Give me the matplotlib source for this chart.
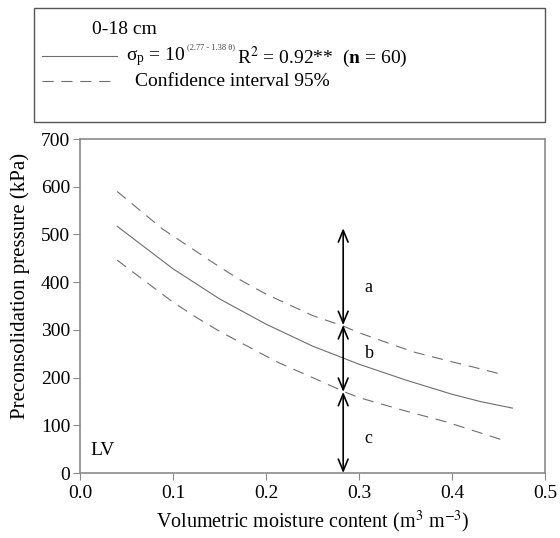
import matplotlib
matplotlib.use("Agg")
import matplotlib.pyplot as plt
from matplotlib.lines import Line2D
from matplotlib.patches import Rectangle

plt.rcParams['font.family'] = ['Liberation Serif', 'DejaVu Serif']
plt.rcParams['mathtext.fontset'] = 'stix'

# Fitted curve (solid)
theta_fit = [0.04, 0.1, 0.15, 0.2, 0.25, 0.3, 0.35, 0.4, 0.43, 0.465]
sp_fit = [517, 428, 365, 312, 266, 228, 195, 165, 150, 136]

# Upper 95% confidence bound
theta_up = [0.04, 0.089, 0.15, 0.172, 0.2, 0.25, 0.283, 0.3, 0.358, 0.4, 0.423, 0.457]
sp_up = [590, 511, 432, 405, 375, 330, 308, 294, 254, 233, 222, 205]

# Lower 95% confidence bound
theta_lo = [0.04, 0.1, 0.126, 0.15, 0.2, 0.215, 0.25, 0.287, 0.3, 0.35, 0.394, 0.453]
sp_lo = [446, 358, 325, 297, 245, 230, 200, 168, 158, 130, 107, 70]

# Arrow (class separation) data
arrow_x = 0.283
arrow_levels = [0, 170, 310, 513]
class_labels = ['c', 'b', 'a']
class_label_y = [73, 251, 388]
class_label_x = 0.306

xticks = [0.0, 0.1, 0.2, 0.3, 0.4, 0.5]
yticks = [0, 100, 200, 300, 400, 500, 600, 700]

W, H = 560, 538
fig = plt.figure(figsize=(W / 100, H / 100), dpi=100)
ax = fig.add_axes([80 / W, 65 / H, 465 / W, 334 / H])

gray = '#6e6e6e'
ax.plot(theta_fit, sp_fit, color=gray, lw=0.8)
ax.plot(theta_up, sp_up, color=gray, lw=0.8, dashes=(10, 7))
ax.plot(theta_lo, sp_lo, color=gray, lw=0.8, dashes=(10, 7))

for lo, hi in zip(arrow_levels[:-1], arrow_levels[1:]):
    ax.annotate('', xy=(arrow_x, hi), xytext=(arrow_x, lo),
                arrowprops=dict(arrowstyle='<->,head_length=0.6,head_width=0.25',
                                color='black', lw=1.2,
                                shrinkA=0, shrinkB=0, mutation_scale=14))
for lab, yy in zip(class_labels, class_label_y):
    ax.text(class_label_x, yy, lab, fontsize=13, ha='left', va='center')

ax.text(0.011, 48, 'LV', fontsize=14, ha='left', va='center')

ax.set_xlim(0, 0.5)
ax.set_ylim(0, 700)
ax.set_xticks(xticks)
ax.set_xticklabels([f'{v:.1f}' for v in xticks])
ax.set_yticks(yticks)
for s in ax.spines.values():
    s.set_color('#8a8a8a')
    s.set_linewidth(1.2)
ax.tick_params(axis='both', direction='out', length=5, color='#8a8a8a', labelsize=14)
ax.tick_params(axis='y', pad=2)
ax.set_xlabel('Volumetric moisture content (m$^3$ m$^{-3}$)', fontsize=14.5, labelpad=5)
ax.set_ylabel('Preconsolidation pressure (kPa)', fontsize=15)
ax.yaxis.set_label_coords(-0.108, 0.56)

# Legend box
fig.patches.append(Rectangle((34 / W, 416 / H), 511 / W, 114 / H, transform=fig.transFigure,
                             fill=False, edgecolor='#555555', lw=1.0))
fig.lines.append(Line2D([42 / W, 117 / W], [1 - 56 / H, 1 - 56 / H], transform=fig.transFigure,
                        color=gray, lw=0.8))
fig.lines.append(Line2D([42 / W, 117 / W], [1 - 81 / H, 1 - 81 / H], transform=fig.transFigure,
                        color=gray, lw=0.8, dashes=(10, 7)))
fig.text(92 / W, 1 - 30 / H, '0-18 cm', fontsize=14, ha='left', va='center')

renderer = fig.canvas.get_renderer()
t1 = fig.text(126 / W, 1 - 57 / H, r'$\mathregular{\sigma_p}$ = 10', fontsize=14,
              ha='left', va='center')
x1 = t1.get_window_extent(renderer).x1
t2 = fig.text(x1 / W + 0.002, 1 - 47 / H, '(2.77 - 1.38 \u03b8)', fontsize=6,
              ha='left', va='center', color='#444444')
x2 = t2.get_window_extent(renderer).x1
fig.text(x2 / W + 0.004, 1 - 57 / H, r'R$^2$ = 0.92**  ($\mathbf{n}$ = 60)', fontsize=14,
         ha='left', va='center')
fig.text(135 / W, 1 - 82 / H, 'Confidence interval 95%', fontsize=14, ha='left', va='center')

fig.savefig('out.png', dpi=100)
